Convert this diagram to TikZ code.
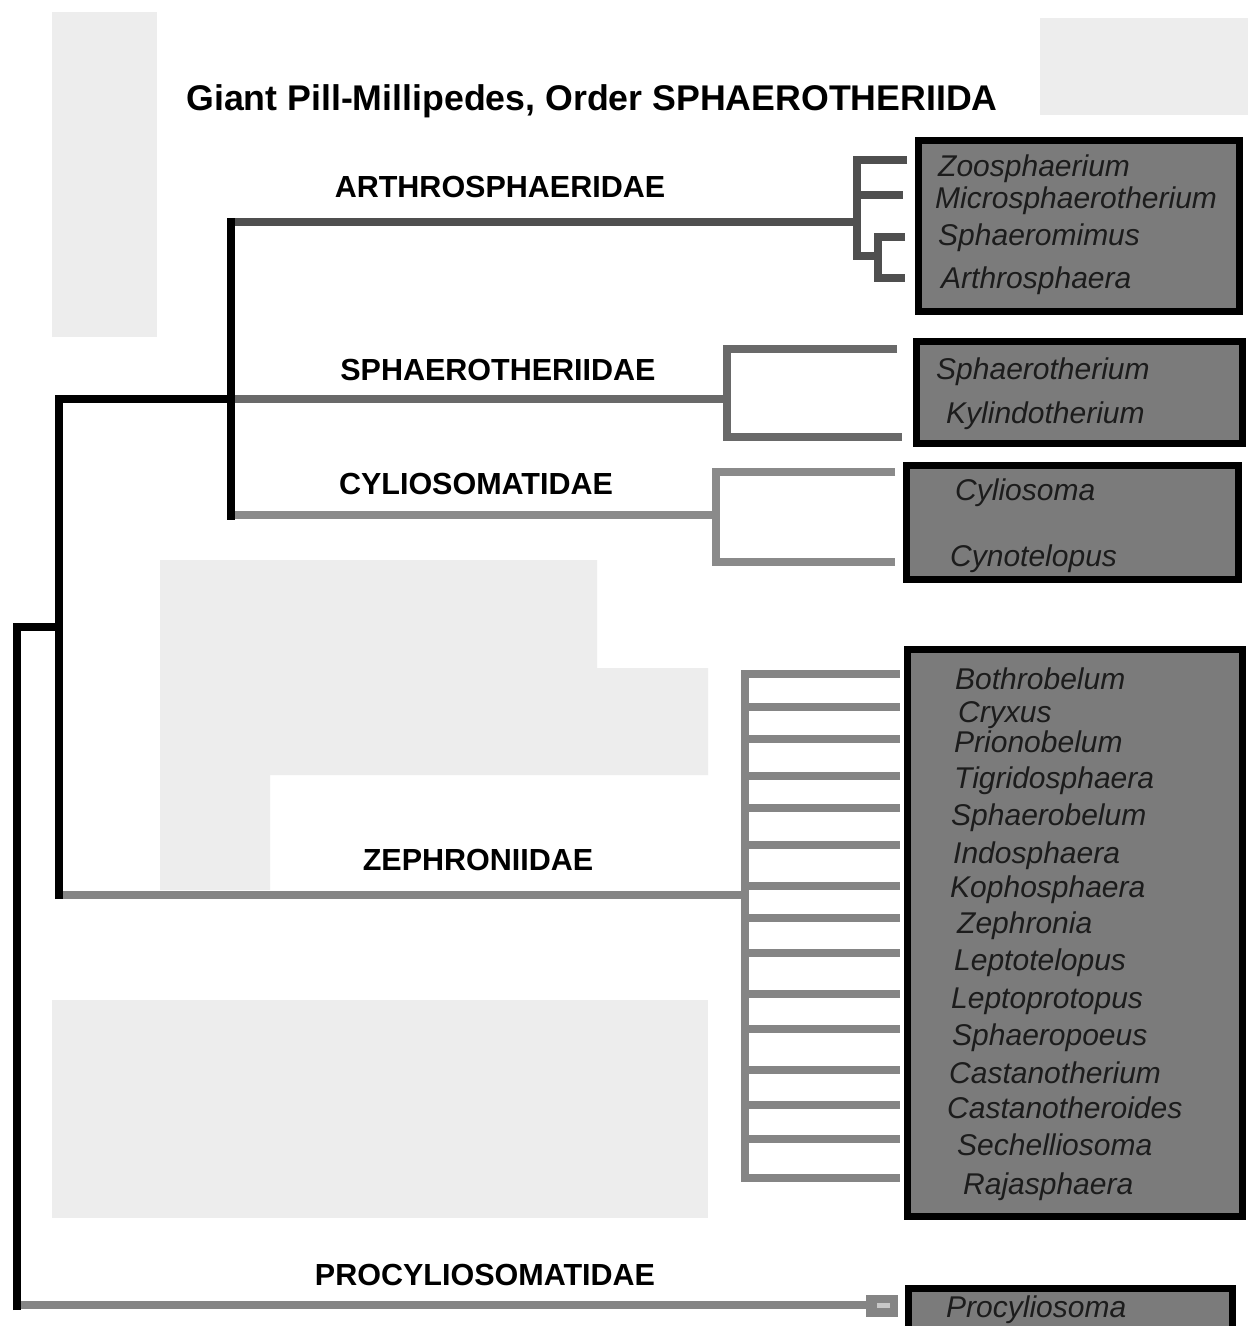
\documentclass[tikz,border=0pt]{standalone}
\usepackage{fontspec}
\setmainfont{Liberation Sans}
\definecolor{wm}{HTML}{EDEDED}
\definecolor{boxfill}{HTML}{7B7B7B}
\definecolor{sptext}{HTML}{1C1C1C}
\definecolor{arthc}{HTML}{4F4F4F}
\definecolor{sphc}{HTML}{696969}
\definecolor{cylc}{HTML}{8A8A8A}
\definecolor{zepc}{HTML}{858585}
\definecolor{proc}{HTML}{858585}
\begin{document}
\begin{tikzpicture}[x=1pt,y=-1pt,
  branch/.style={line width=8pt, line join=miter},
  taxbox/.style={draw=black, line width=7pt, fill=boxfill, inner sep=0pt, outer sep=0pt},
  genus/.style={anchor=base west, inner sep=0pt, text=sptext, font=\fontsize{30}{36}\selectfont\itshape},
  family/.style={anchor=base, inner sep=0pt, text=black, font=\fontsize{30.5}{36}\selectfont\bfseries},
  heading/.style={anchor=base, inner sep=0pt, text=black, font=\fontsize{35.7}{40}\selectfont\bfseries},
]
\useasboundingbox (0,0) rectangle (1248,1326);
\fill[white] (0,0) rectangle (1248,1326);
% faint background patches
\fill[wm] (52,12) rectangle (157,337);
\fill[wm] (1040,18) rectangle (1248,115);
\fill[wm] (160,560) -- (597,560) -- (597,668) -- (708,668) -- (708,775) -- (270,775) -- (270,890) -- (160,890) -- cycle;
\fill[wm] (52,1000) rectangle (708,1218);

% title
\node[heading] (title) at (592,110) {Giant Pill-Millipedes, Order SPHAEROTHERIIDA};

% family labels
\node[family] (farth) at (500,197) {ARTHROSPHAERIDAE};
\node[family] (fsph) at (498,380) {SPHAEROTHERIIDAE};
\node[family] (fcyl) at (476,494) {CYLIOSOMATIDAE};
\node[family] (fzep) at (478,870) {ZEPHRONIIDAE};
\node[family] (fpro) at (485,1285) {PROCYLIOSOMATIDAE};

% boxes
\node[taxbox, minimum width=321pt, minimum height=171pt] (box1) at (1079,226) {};
\node[taxbox, minimum width=326pt, minimum height=102pt] (box2) at (1079.5,392.5) {};
\node[taxbox, minimum width=332pt, minimum height=114pt] (box3) at (1072.5,522.5) {};
\node[taxbox, minimum width=335pt, minimum height=567pt] (box4) at (1075,933) {};
\node[taxbox, minimum width=324pt, minimum height=52pt] (box5) at (1070.5,1314) {};

% genera
\node[genus] (g1) at (938,176) {Zoosphaerium};
\node[genus] (g2) at (935,208) {Microsphaerotherium};
\node[genus] (g3) at (938,245) {Sphaeromimus};
\node[genus] (g4) at (941,288) {Arthrosphaera};
\node[genus] (g5) at (936,379) {Sphaerotherium};
\node[genus] (g6) at (946,423) {Kylindotherium};
\node[genus] (g7) at (955,500) {Cyliosoma};
\node[genus] (g8) at (950,566) {Cynotelopus};
\node[genus] (z1) at (955,689) {Bothrobelum};
\node[genus] (z2) at (958,722) {Cryxus};
\node[genus] (z3) at (954,752) {Prionobelum};
\node[genus] (z4) at (954,788) {Tigridosphaera};
\node[genus] (z5) at (951,825) {Sphaerobelum};
\node[genus] (z6) at (953,863) {Indosphaera};
\node[genus] (z7) at (950,897) {Kophosphaera};
\node[genus] (z8) at (957,933) {Zephronia};
\node[genus] (z9) at (954,970) {Leptotelopus};
\node[genus] (z10) at (951,1008) {Leptoprotopus};
\node[genus] (z11) at (952,1045) {Sphaeropoeus};
\node[genus] (z12) at (949,1083) {Castanotherium};
\node[genus] (z13) at (947,1118) {Castanotheroides};
\node[genus] (z14) at (957,1155) {Sechelliosoma};
\node[genus] (z15) at (963,1194) {Rajasphaera};
\node[genus] (g9) at (946,1317) {Procyliosoma};

% tree junction coordinates
\coordinate (root) at (17,1310);
\coordinate (rootj) at (17,627);
\coordinate (n1) at (59,627);
\coordinate (n1top) at (59,399);
\coordinate (n1bot) at (59,899);
\coordinate (n2) at (231,399);
\coordinate (n2top) at (231,218);
\coordinate (n2bot) at (231,520);
\coordinate (arthj) at (857,222);
\coordinate (sphj) at (727,399);
\coordinate (cylj) at (716,515);
\coordinate (zepj) at (745,895);
\coordinate (proj) at (870,1305);

% gray family branches (drawn first, black trunk on top)
\draw[branch, arthc] (n2 |- arthj) -- (arthj);
\draw[branch, sphc] (n2) -- (sphj);
\draw[branch, cylc] (n2 |- cylj) -- (cylj);
\draw[branch, zepc] (n1 |- zepj) -- (zepj);
\draw[branch, proc] (root |- proj) -- (proj);

% Arthrosphaeridae subtree
\draw[branch, arthc] (907,160) -- (857,160) -- (857,256) -- (882,256);
\draw[branch, arthc] (857,195) -- (903,195);
\draw[branch, arthc] (905,237) -- (878,237) -- (878,278) -- (905,278);
% Sphaerotheriidae subtree
\draw[branch, sphc] (897,349) -- (sphj |- 0,349) -- (sphj |- 0,437) -- (902,437);
% Cyliosomatidae subtree
\draw[branch, cylc] (895,472) -- (cylj |- 0,472) -- (cylj |- 0,562) -- (895,562);
% Zephroniidae comb
\draw[branch, zepc] (745,670) -- (745,1182);
\foreach \yy [count=\i] in {674,707,739,776,808,845,886,918,953,994,1029,1070,1105,1139,1178}
  \draw[branch, zepc] (741,\yy) -- (900,\yy) coordinate (zl\i);
% Procyliosomatidae stub
\fill[proc] (866,1295) rectangle (898,1317);
\fill[white!55!proc] (877,1303) rectangle (890,1308);

% black trunk
\draw[branch, black] (root) -- (rootj) -- (n1);
\draw[branch, black] (n1bot) -- (n1top) -- (n2);
\draw[branch, black] (n2top) -- (n2bot);
\end{tikzpicture}
\end{document}
